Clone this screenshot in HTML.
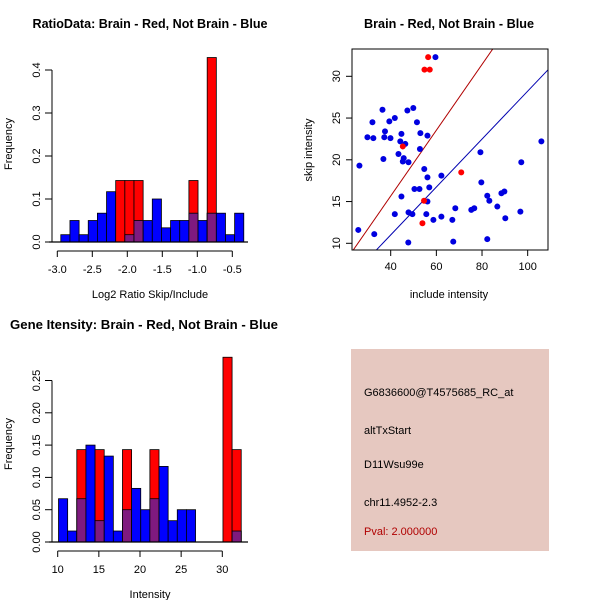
<!DOCTYPE html>
<html><head><meta charset="utf-8"><style>
html,body{margin:0;padding:0;background:#fff}
svg{display:block;font-family:"Liberation Sans",Arial,sans-serif}
</style></head><body>
<svg id="s" width="600" height="600" viewBox="0 0 600 600" xmlns="http://www.w3.org/2000/svg">
<rect width="600" height="600" fill="#fff"/>
<g id="p1"></g>
<g id="p2"></g>
<g id="p3"></g>
<g>
<rect x="351" y="349" width="198" height="202" fill="#e6c8c0"/>
<g font-size="11" fill="#000">
<text x="364" y="396">G6836600@T4575685_RC_at</text>
<text x="364" y="434">altTxStart</text>
<text x="364" y="468">D11Wsu99e</text>
<text x="364" y="506">chr11.4952-2.3</text>
<text x="364" y="535" fill="#b00000">Pval: 2.000000</text>
</g></g>
</svg>
<script>
// Ratio histogram data (20 bins)
const ratioBinStart = -2.95;
const ratioBinWidth = 0.1307;
const ratioBlue = [0.017,0.05,0.017,0.05,0.067,0.117,0,0.017,0.05,0.05,0.1,0.033,0.05,0.05,0.067,0.05,0.067,0.067,0.017,0.067];
const ratioRed  = [0,0,0,0,0,0,0.143,0.143,0.143,0,0,0,0,0,0.143,0,0.429,0,0,0];
const ratioXTicks = [-3.0,-2.5,-2.0,-1.5,-1.0,-0.5];
const ratioXTickLabels = ["-3.0","-2.5","-2.0","-1.5","-1.0","-0.5"];
const ratioYTicks = [0,0.1,0.2,0.3,0.4];
const ratioYTickLabels = ["0.0","0.1","0.2","0.3","0.4"];
// Intensity histogram data (20 bins)
const intBinStart = 10.1;
const intBinWidth = 1.11;
const intBlue = [0.067,0.017,0.067,0.15,0.033,0.133,0.017,0.05,0.083,0.05,0.067,0.117,0.033,0.05,0.05,0,0,0,0,0.017];
const intRed  = [0,0,0.143,0,0.143,0,0,0.143,0,0,0.143,0,0,0,0,0,0,0,0.286,0.143];
const intXTicks = [10,15,20,25,30];
const intXTickLabels = ["10","15","20","25","30"];
const intYTicks = [0,0.05,0.1,0.15,0.2,0.25];
const intYTickLabels = ["0.00","0.05","0.10","0.15","0.20","0.25"];
// Scatter data
const blueX = [59.6,36.4,47.3,49.9,32.0,39.4,41.8,51.5,29.8,32.4,37.5,37.2,39.9,44.7,44.2,46.4,53.0,56.1,52.8,43.4,36.8,45.7,45.3,47.8,26.3,54.7,56.1,62.2,56.9,50.4,52.6,44.7,56.1,41.8,47.8,49.5,55.6,58.7,62.2,67.0,68.3,75.3,76.6,32.8,25.8,47.7,67.4,79.3,79.7,82.3,83.2,86.7,88.5,89.8,90.2,96.8,97.2,106.0,82.3];
const blueY = [32.3,26.0,25.9,26.2,24.5,24.6,25.0,24.5,22.7,22.6,23.4,22.7,22.6,23.1,22.2,21.9,23.2,22.9,21.3,20.7,20.1,20.2,19.8,19.7,19.3,18.9,17.9,18.1,16.7,16.5,16.5,15.6,15.0,13.5,13.7,13.5,13.5,12.8,13.2,12.8,14.2,14.0,14.2,11.1,11.6,10.1,10.2,20.9,17.3,15.7,15.1,14.4,16.0,16.2,13.0,13.8,19.7,22.2,10.5];
const redX = [56.4,54.8,57.1,45.3,70.9,53.9,54.6];
const redY = [32.3,30.8,30.8,21.6,18.5,12.4,15.1];
const redLine = [-0.1,0.394];   // intercept, slope
const blueLine = [-0.48,0.287];
const scXTicks = [40,60,80,100];
const scYTicks = [10,15,20,25,30];

const NS="http://www.w3.org/2000/svg";
function mk(parent,tag,attrs,text){const e=document.createElementNS(NS,tag);for(const k in attrs)e.setAttribute(k,attrs[k]);if(text!==undefined)e.textContent=text;parent.appendChild(e);return e;}

function hist(g,o){
  const sx=v=>o.x0+(v-o.v0)*o.kx, sy=v=>o.y0-v*o.ky;
  const t=mk(g,'text',{x:o.tx,y:o.ty,'font-size':13,'font-weight':'bold','text-anchor':'middle',textLength:o.tl,lengthAdjust:'spacingAndGlyphs'},o.title);
  
  
  for(let i=0;i<o.blue.length;i++){
    const a=o.bs+i*o.bw,b=a+o.bw,x=sx(a),w=sx(b)-x;
    const bl=o.blue[i],rd=o.red[i];
    if(bl>0){const r=mk(g,'rect',{x:x,y:sy(bl),width:w,height:sy(0)-sy(bl),fill:'#0000ff',stroke:'#000','stroke-width':0.8});
      
      }
    if(rd>0){const r=mk(g,'rect',{x:x,y:sy(rd),width:w,height:sy(0)-sy(rd),fill:'#ff0000',stroke:'#000','stroke-width':0.8});
      
      
      const m=Math.min(bl,rd);
      if(m>0){const p=mk(g,'rect',{x:x,y:sy(m),width:w,height:sy(0)-sy(m),fill:'#7f1a7f',stroke:'#000','stroke-width':0.8});
        
        }}
  }
  mk(g,'line',{x1:49,x2:248,y1:o.y0,y2:o.y0,stroke:'#000','stroke-width':1.2});
  // y axis
  const yt=o.yt;
  mk(g,'line',{x1:52,x2:52,y1:sy(yt[0]),y2:sy(yt[yt.length-1]),stroke:'#000'});
  yt.forEach((v,i)=>{mk(g,'line',{x1:45,x2:52,y1:sy(v),y2:sy(v),stroke:'#000'});
    const l=mk(g,'text',{x:0,y:0,'font-size':11,'text-anchor':'middle',transform:`translate(40,${sy(v)}) rotate(-90)`},o.ytl[i]);
    
    });
  const xt=o.xt, ay=o.y0+9;
  mk(g,'line',{x1:sx(xt[0]),x2:sx(xt[xt.length-1]),y1:ay,y2:ay,stroke:'#000'});
  xt.forEach((v,i)=>{mk(g,'line',{x1:sx(v),x2:sx(v),y1:ay,y2:ay+6,stroke:'#000'});
    const l=mk(g,'text',{x:sx(v),y:ay+22,'font-size':11,'text-anchor':'middle'},o.xtl[i]);
    
    });
  const xl=mk(g,'text',{x:150,y:o.y0+56,'font-size':11,'text-anchor':'middle'},o.xlab);
  
  
  const yl=mk(g,'text',{x:0,y:0,'font-size':11,'text-anchor':'middle',transform:`translate(12,${o.y0-98}) rotate(-90)`},'Frequency');
  
  
}
hist(document.getElementById('p1'),{title:'RatioData: Brain - Red, Not Brain - Blue',tx:150,ty:28,tl:235,
  x0:57.3,v0:-3.0,kx:70,y0:242,ky:430,bs:ratioBinStart,bw:ratioBinWidth,blue:ratioBlue,red:ratioRed,
  xt:ratioXTicks,xtl:ratioXTickLabels,yt:ratioYTicks,ytl:ratioYTickLabels,xlab:'Log2 Ratio Skip/Include'});
hist(document.getElementById('p3'),{title:'Gene Itensity: Brain - Red, Not Brain - Blue',tx:144,ty:329,tl:268,
  x0:57.7,v0:10,kx:8.23,y0:542,ky:646,bs:intBinStart,bw:intBinWidth,blue:intBlue,red:intRed,
  xt:intXTicks,xtl:intXTickLabels,yt:intYTicks,ytl:intYTickLabels,xlab:'Intensity'});

// scatter
(function(){
  const g=document.getElementById('p2');
  const L=352,R=548,T=49,B=250;
  const sx=v=>390.7+(v-40)*2.283, sy=v=>243.3-(v-10)*8.35;
  const t=mk(g,'text',{x:449,y:28,'font-size':13,'font-weight':'bold','text-anchor':'middle',textLength:170,lengthAdjust:'spacingAndGlyphs'},'Brain - Red, Not Brain - Blue');
  
  
  const cp=mk(g,'clipPath',{id:'cp'});mk(cp,'rect',{x:L,y:T,width:R-L,height:B-T});
  const pts=mk(g,'g',{'clip-path':'url(#cp)'});
  const lx0=20,lx1=115;
  const rl=mk(pts,'line',{x1:sx(lx0),y1:sy(redLine[0]+redLine[1]*lx0),x2:sx(lx1),y2:sy(redLine[0]+redLine[1]*lx1),stroke:'#b00000','stroke-width':1});
  
  
  const bln=mk(pts,'line',{x1:sx(lx0),y1:sy(blueLine[0]+blueLine[1]*lx0),x2:sx(lx1),y2:sy(blueLine[0]+blueLine[1]*lx1),stroke:'#0000b0','stroke-width':1});
  
  
  blueX.forEach((v,i)=>{const c=mk(pts,'circle',{cx:sx(v),cy:sy(blueY[i]),r:3,fill:'#0000e0'});
    
    });
  redX.forEach((v,i)=>{const c=mk(pts,'circle',{cx:sx(v),cy:sy(redY[i]),r:3,fill:'#ff0000'});
    
    });
  mk(g,'rect',{x:L,y:T,width:R-L,height:B-T,fill:'none',stroke:'#000'});
  scXTicks.forEach(v=>{mk(g,'line',{x1:sx(v),x2:sx(v),y1:B,y2:B+6,stroke:'#000'});
    const l=mk(g,'text',{x:sx(v),y:B+20,'font-size':11,'text-anchor':'middle'},String(v));
    
    });
  scYTicks.forEach(v=>{mk(g,'line',{x1:L-6,x2:L,y1:sy(v),y2:sy(v),stroke:'#000'});
    const l=mk(g,'text',{x:0,y:0,'font-size':11,'text-anchor':'middle',transform:`translate(340,${sy(v)}) rotate(-90)`},String(v));
    
    });
  const xl=mk(g,'text',{x:449,y:298,'font-size':11,'text-anchor':'middle'},'include intensity');
  
  
  const yl=mk(g,'text',{x:0,y:0,'font-size':11,'text-anchor':'middle',transform:'translate(312,150) rotate(-90)'},'skip intensity');
  
  
})();
</script>
</body></html>
